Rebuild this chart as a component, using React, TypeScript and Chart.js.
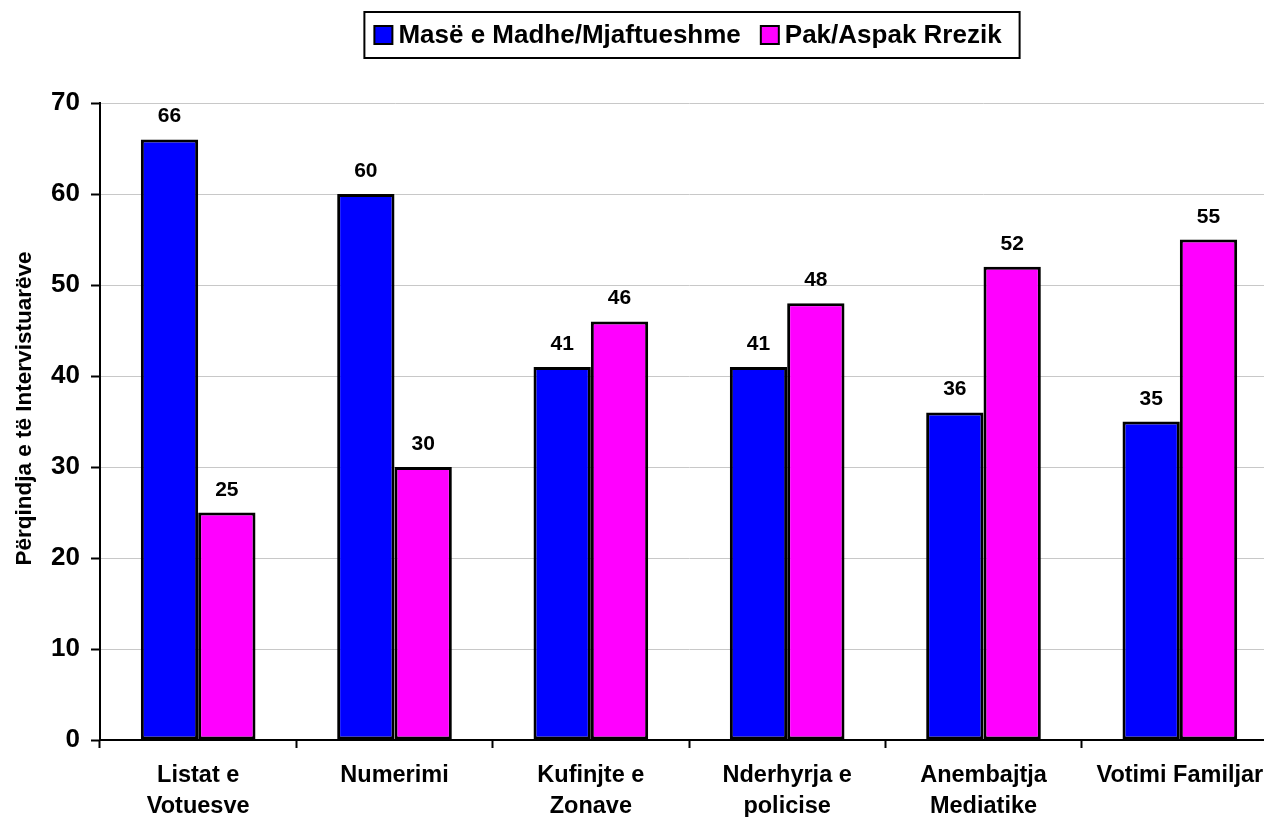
import React, { useEffect, useRef } from 'react';
import { Chart, registerables } from 'chart.js';

Chart.register(...registerables);

const categories: string[][] = [
  ['Listat e', 'Votuesve'],
  ['Numerimi'],
  ['Kufinjte e', 'Zonave'],
  ['Nderhyrja e', 'policise'],
  ['Anembajtja', 'Mediatike'],
  ['Votimi Familjar'],
];
const seriesNames = ['Masë e Madhe/Mjaftueshme', 'Pak/Aspak Rrezik'];
const seriesLarge = [66, 60, 41, 41, 36, 35];
const seriesSmall = [25, 30, 46, 48, 52, 55];
const seriesColors = ['#0000FF', '#FF00FF'];
const yMin = 0;
const yMax = 70;
const yStep = 10;
const yTitle = 'Përqindja e të Intervistuarëve';

const FONT = 'Arial, "Liberation Sans", sans-serif';

const valueLabelPlugin = {
  id: 'valueLabels',
  afterDatasetsDraw(chart: any) {
    const ctx = chart.ctx;
    ctx.save();
    ctx.font = `bold 21px ${FONT}`;
    ctx.fillStyle = '#000';
    ctx.textAlign = 'center';
    ctx.textBaseline = 'alphabetic';
    chart.data.datasets.forEach((ds: any, di: number) => {
      const meta = chart.getDatasetMeta(di);
      meta.data.forEach((el: any, i: number) => {
        ctx.fillText(String(ds.data[i]), el.x, el.y - 17);
      });
    });
    ctx.restore();
  },
};

const yTitlePlugin = {
  id: 'yTitleDraw',
  afterDraw(chart: any) {
    const ctx = chart.ctx;
    const area = chart.chartArea;
    ctx.save();
    ctx.font = `bold 22.5px ${FONT}`;
    ctx.fillStyle = '#000';
    ctx.textAlign = 'center';
    ctx.textBaseline = 'middle';
    ctx.translate(25, (area.top + area.bottom) / 2 - 13);
    ctx.rotate(-Math.PI / 2);
    ctx.fillText(yTitle, 0, 0);
    ctx.restore();
  },
};

const boxedLegendPlugin = {
  id: 'boxedLegend',
  afterDraw(chart: any) {
    const ctx = chart.ctx;
    ctx.save();
    ctx.font = `bold 26px ${FONT}`;
    ctx.textBaseline = 'middle';
    ctx.textAlign = 'left';
    const padL = 10;
    const sq = 18;
    const gapSqText = 6;
    const gapItems = 20;
    const padR = 18;
    const widths = seriesNames.map((n) => ctx.measureText(n).width);
    let total = padL + padR;
    widths.forEach((w, i) => {
      total += sq + gapSqText + w;
      if (i > 0) total += gapItems;
    });
    const cx = (chart.chartArea.left + chart.chartArea.right) / 2 + 3;
    const left = cx - total / 2;
    const top = 12;
    const h = 46;
    ctx.lineWidth = 2;
    ctx.strokeStyle = '#000';
    ctx.fillStyle = '#fff';
    ctx.fillRect(left, top, total, h);
    ctx.strokeRect(left, top, total, h);
    let x = left + padL;
    const cy = top + h / 2;
    seriesNames.forEach((n, i) => {
      if (i > 0) x += gapItems;
      ctx.fillStyle = seriesColors[i];
      ctx.fillRect(x, cy - sq / 2, sq, sq);
      ctx.lineWidth = 2;
      ctx.strokeStyle = '#000';
      ctx.strokeRect(x, cy - sq / 2, sq, sq);
      x += sq + gapSqText;
      ctx.fillStyle = '#000';
      ctx.fillText(n, x, cy + 1);
      x += widths[i];
    });
    ctx.restore();
  },
};

export default function App() {
  const canvasRef = useRef<HTMLCanvasElement | null>(null);

  useEffect(() => {
    if (!canvasRef.current) return;
    const chart = new Chart(canvasRef.current, {
      type: 'bar',
      data: {
        labels: categories as any,
        datasets: [
          {
            label: seriesNames[0],
            data: seriesLarge,
            backgroundColor: seriesColors[0],
            borderColor: '#000',
            borderWidth: 3,
            borderSkipped: false,
            categoryPercentage: 0.584,
            barPercentage: 1,
          },
          {
            label: seriesNames[1],
            data: seriesSmall,
            backgroundColor: seriesColors[1],
            borderColor: '#000',
            borderWidth: 3,
            borderSkipped: false,
            categoryPercentage: 0.584,
            barPercentage: 1,
          },
        ],
      },
      options: {
        responsive: false,
        maintainAspectRatio: false,
        animation: false,
        devicePixelRatio: 1,
        layout: { padding: { top: 103, right: 2, bottom: 0, left: 0 } },
        plugins: {
          legend: { display: false },
          tooltip: { enabled: false },
          title: { display: false },
        },
        scales: {
          x: {
            offset: true,
            grid: {
              display: true,
              drawOnChartArea: false,
              drawTicks: true,
              tickLength: 8,
              tickColor: '#000',
              tickWidth: 2,
              offset: true,
            },
            border: { display: true, color: '#000', width: 2 },
            ticks: {
              color: '#000',
              padding: 12,
              maxRotation: 0,
              autoSkip: false,
              font: { family: FONT, size: 23.5, weight: 'bold', lineHeight: 1.33 },
            },
            afterFit: (scale: any) => {
              scale.height = 77;
            },
          } as any,
          y: {
            min: yMin,
            max: yMax,
            grid: {
              color: '#c8c8c8',
              lineWidth: 1,
              drawTicks: true,
              tickLength: 9,
              tickColor: '#000',
              tickWidth: 2,
            },
            border: { display: true, color: '#000', width: 2 },
            ticks: {
              stepSize: yStep,
              color: '#000',
              padding: 11,
              font: { family: FONT, size: 26, weight: 'bold' },
            },
            title: { display: false },
            afterFit: (scale: any) => {
              scale.width = 100;
            },
          } as any,
        },
      },
      plugins: [valueLabelPlugin, yTitlePlugin, boxedLegendPlugin],
    });
    return () => chart.destroy();
  }, []);

  return (
    <div
      style={{
        position: 'fixed',
        left: 0,
        top: 0,
        width: 1264,
        height: 817,
        overflow: 'hidden',
        background: '#fff',
      }}
    >
      <canvas
        ref={canvasRef}
        width={1280}
        height={817}
        style={{ display: 'block', width: 1280, height: 817 }}
      />
    </div>
  );
}
